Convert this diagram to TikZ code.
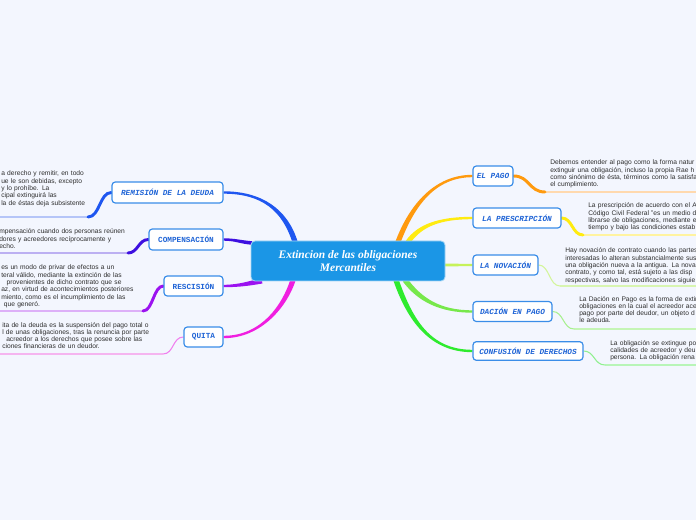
\documentclass[tikz,border=0pt]{standalone}
\usepackage{fontspec}
\setmainfont{Liberation Sans}
\newfontfamily\monof{Liberation Mono}
\newfontfamily\seriff{Liberation Serif}
\usetikzlibrary{calc}
\definecolor{bgc}{HTML}{F3F6FE}
\definecolor{cfill}{HTML}{1B96E6}
\definecolor{nodeb}{HTML}{3A8DE8}
\definecolor{nodet}{HTML}{1F64D6}
\definecolor{notec}{HTML}{2E2E2E}
\definecolor{corange}{HTML}{FF9A0E}\definecolor{lpago}{HTML}{FFD9AE}
\definecolor{cyellow}{HTML}{FFEB10}\definecolor{lpresc}{HTML}{FFF3A0}
\definecolor{clime}{HTML}{C6F25A}\definecolor{tnov}{HTML}{D3F59A}\definecolor{lnov}{HTML}{D8F5B0}
\definecolor{cgreena}{HTML}{77E84B}\definecolor{tdac}{HTML}{A8F090}\definecolor{ldac}{HTML}{C5F5B5}
\definecolor{cgreenb}{HTML}{2EEB2E}\definecolor{tconf}{HTML}{90F090}\definecolor{lconf}{HTML}{B8F5B8}
\definecolor{cblue}{HTML}{1E56F0}\definecolor{lremi}{HTML}{B5C5F8}
\definecolor{cindigo}{HTML}{3D0FE0}\definecolor{lcomp}{HTML}{BCB0F2}
\definecolor{cpurple}{HTML}{9B12F0}\definecolor{lresc}{HTML}{DDB0F8}
\definecolor{cmagenta}{HTML}{F01EE0}\definecolor{tquita}{HTML}{F080EE}\definecolor{lquita}{HTML}{F5B5F0}
\pgfdeclarelayer{back}\pgfdeclarelayer{bg}
\pgfsetlayers{back,bg,main}
\newcommand\mmbranch[7]{\fill[#1] ($#2+#6$) .. controls ($#3+#6$) and ($#4+#7$) .. ($#5+#7$) -- ($#5-#7$) .. controls ($#4-#7$) and ($#3-#6$) .. ($#2-#6$) -- cycle;}
\begin{document}
\begin{tikzpicture}[x=0.75pt,y=-0.75pt,
  topic/.style={draw=nodeb, line width=0.9pt, rounded corners=2.5pt, fill=white, text=nodet,
    font=\monof\bfseries\fontsize{5.8}{7}\selectfont, inner sep=0pt, minimum height=15pt},
  ital/.style={font=\monof\bfseries\itshape\fontsize{5.8}{7}\selectfont},
  central/.style={draw=white!60!cfill, line width=0.6pt, fill=cfill, rounded corners=3pt, text=white,
    font=\seriff\bfseries\itshape\fontsize{8.6}{9.75}\selectfont, align=center,
    minimum width=145.5pt, minimum height=30pt, inner sep=0pt},
  note/.style={anchor=base west, inner sep=0pt, text width=300pt, align=left, text=notec,
    font=\fontsize{5}{5.5}\selectfont},
  uline/.style={line width=1.1pt},
  thickc/.style={line width=2.2pt},
  thinc/.style={line width=0.8pt}]
\begin{pgfonlayer}{back}
\fill[bgc] (0,0) rectangle (696,520);
\end{pgfonlayer}
\useasboundingbox (0,0) rectangle (696,520);

% central and topic nodes
\node[central] (c) at (348,261) {Extincion de las obligaciones\\Mercantiles};
\node[topic,ital,minimum width=30pt] (pago) at (493,176) {EL PAGO};
\node[topic,ital,minimum width=66pt] (presc) at (517,218) {LA PRESCRIPCIÓN};
\node[topic,ital,minimum width=48.75pt] (nov) at (505.5,265) {LA NOVACIÓN};
\node[topic,ital,minimum width=59.25pt] (dac) at (512.5,311.5) {DACIÓN EN PAGO};
\node[topic,ital,minimum width=82.5pt,minimum height=14pt] (conf) at (528,351) {CONFUSIÓN DE DERECHOS};
\node[topic,ital,minimum width=83.25pt,minimum height=15.75pt] (remi) at (167.5,192.5) {REMISIÓN DE LA DEUDA};
\node[topic,minimum width=55.5pt,minimum height=15.75pt] (comp) at (186,239.5) {COMPENSACIÓN};
\node[topic,minimum width=44.25pt] (resc) at (193.5,286) {RESCISIÓN};
\node[topic,minimum width=29.25pt] (quita) at (203.5,337) {QUITA};

% branch start points on the central node
\coordinate (s1) at (398,242);
\coordinate (s2) at (408,242);
\coordinate (s3) at (444,265);
\coordinate (s4) at (405,280);
\coordinate (s5) at (396,280);
\coordinate (s6) at (295,242);
\coordinate (s7) at (252,243);
\coordinate (s8) at (262,281);
\coordinate (s9) at (293,280);

\begin{pgfonlayer}{bg}
\mmbranch{corange}{(s1)}{(412,205)}{(435,176)}{(pago.west)}{(2.4,0.9)}{(0,1.2)}
\mmbranch{cyellow}{(s2)}{(420,225)}{(440,218)}{(presc.west)}{(2.0,1.4)}{(0,1.2)}
\mmbranch{clime}{(s3)}{(455,265)}{(462,265)}{(nov.west)}{(0,1.5)}{(0,1.0)}
\mmbranch{cgreena}{(s4)}{(420,300)}{(440,311.5)}{(dac.west)}{(-2.1,1.6)}{(0,1.2)}
\mmbranch{cgreenb}{(s5)}{(410,320)}{(430,351)}{(conf.west)}{(-2.5,0.9)}{(0,1.2)}
\mmbranch{cblue}{(s6)}{(285,210)}{(262,192.5)}{(remi.east)}{(2.5,-0.8)}{(0,-1.2)}
\mmbranch{cindigo}{(s7)}{(240,242)}{(235,239.5)}{(comp.east)}{(0,-1.8)}{(0,-1.2)}
\mmbranch{cpurple}{(s8)}{(250,283)}{(240,286)}{(resc.east)}{(-0.4,-2.5)}{(0,-1.2)}
\mmbranch{cmagenta}{(s9)}{(285,305)}{(262,337)}{(quita.east)}{(-2.5,-0.7)}{(0,-1.2)}
\end{pgfonlayer}

% underline coordinates
\coordinate (u1) at (545,192); \coordinate (e1) at (696,192);
\coordinate (u2) at (583,235); \coordinate (e2) at (696,235);
\coordinate (u3) at (560,286); \coordinate (e3) at (696,286);
\coordinate (u4) at (574,329); \coordinate (e4) at (696,329);
\coordinate (u5) at (605,365); \coordinate (e5) at (696,365);
\coordinate (u6) at (88,217);  \coordinate (e6) at (0,217);
\coordinate (u7) at (128,253); \coordinate (e7) at (0,253);
\coordinate (u8) at (143,311); \coordinate (e8) at (0,311);
\coordinate (u9) at (163,354); \coordinate (e9) at (0,354);

\begin{pgfonlayer}{bg}
\draw[uline,lpago] (u1) -- (e1);
\draw[uline,lpresc] (u2) -- (e2);
\draw[uline,lnov] (u3) -- (e3);
\draw[uline,ldac] (u4) -- (e4);
\draw[uline,lconf] (u5) -- (e5);
\draw[uline,lremi] (u6) -- (e6);
\draw[uline,lcomp] (u7) -- (e7);
\draw[uline,lresc] (u8) -- (e8);
\draw[uline,lquita] (u9) -- (e9);
\draw[thickc,corange,line cap=round] (pago.east) .. controls +(16,0) and +(-16,0) .. (u1);
\draw[thickc,cyellow,line cap=round] (presc.east) .. controls +(11,0) and +(-11,0) .. (u2);
\draw[thinc,tnov] (nov.east) .. controls +(11,0) and +(-11,0) .. (u3);
\draw[thinc,tdac] (dac.east) .. controls +(11,0) and +(-11,0) .. (u4);
\draw[thinc,tconf] (conf.east) .. controls +(11,0) and +(-11,0) .. (u5);
\draw[thickc,cblue,line cap=round] (remi.west) .. controls +(-12,0) and +(12,0) .. (u6);
\draw[thickc,cindigo,line cap=round] (comp.west) .. controls +(-10,0) and +(10,0) .. (u7);
\draw[thickc,cpurple,line cap=round] (resc.west) .. controls +(-10,0) and +(10,0) .. (u8);
\draw[thinc,tquita] (quita.west) .. controls +(-11,0) and +(11,0) .. (u9);
\end{pgfonlayer}

% note texts
\node[note] (tpago) at (550,165) {Debemos entender al pago como la forma natur\\extinguir una obligación, incluso la propia Rae h\\como sinónimo de ésta, términos como la satisfa\\el cumplimiento.};
\node[note] (tpresc) at (588,208) {La prescripción de acuerdo con el A\\Código Civil Federal "es un medio d\\librarse de obligaciones, mediante e\\tiempo y bajo las condiciones estab};
\node[note] (tnov) at (565,253) {Hay novación de contrato cuando las partes\\interesadas lo alteran substancialmente sus\\una obligación nueva a la antigua. La nova\\contrato, y como tal, está sujeto a las disp\\respectivas, salvo las modificaciones siguie};
\node[note] (tdac) at (579,301) {La Dación en Pago es la forma de extir\\obligaciones en la cual el acreedor ace\\pago por parte del deudor, un objeto d\\le adeuda.};
\node[note] (tconf) at (610,345) {La obligación se extingue po\\calidades de acreedor y deu\\persona. La obligación rena};
\node[note] (tremi) at (1,176) {a derecho y remitir, en todo\\ue le son debidas, excepto\\y lo prohíbe. La\\cipal extinguirá las\\la de éstas deja subsistente};
\node[note] (tcomp) at (-1,234) {mpensación cuando dos personas reúnen\\dores y acreedores recíprocamente y\\echo.};
\node[note] (tresc) at (1,270) {es un modo de privar de efectos a un\\teral válido, mediante la extinción de las\\\hspace*{4pt}provenientes de dicho contrato que se\\az, en virtud de acontecimientos posteriores\\miento, como es el incumplimiento de las\\\hspace*{2pt}que generó.};
\node[note] (tquita) at (2,327) {ita de la deuda es la suspensión del pago total o\\l de unas obligaciones, tras la renuncia por parte\\\hspace*{3pt}acreedor a los derechos que posee sobre las\\ciones financieras de un deudor.};
\end{tikzpicture}
\end{document}
